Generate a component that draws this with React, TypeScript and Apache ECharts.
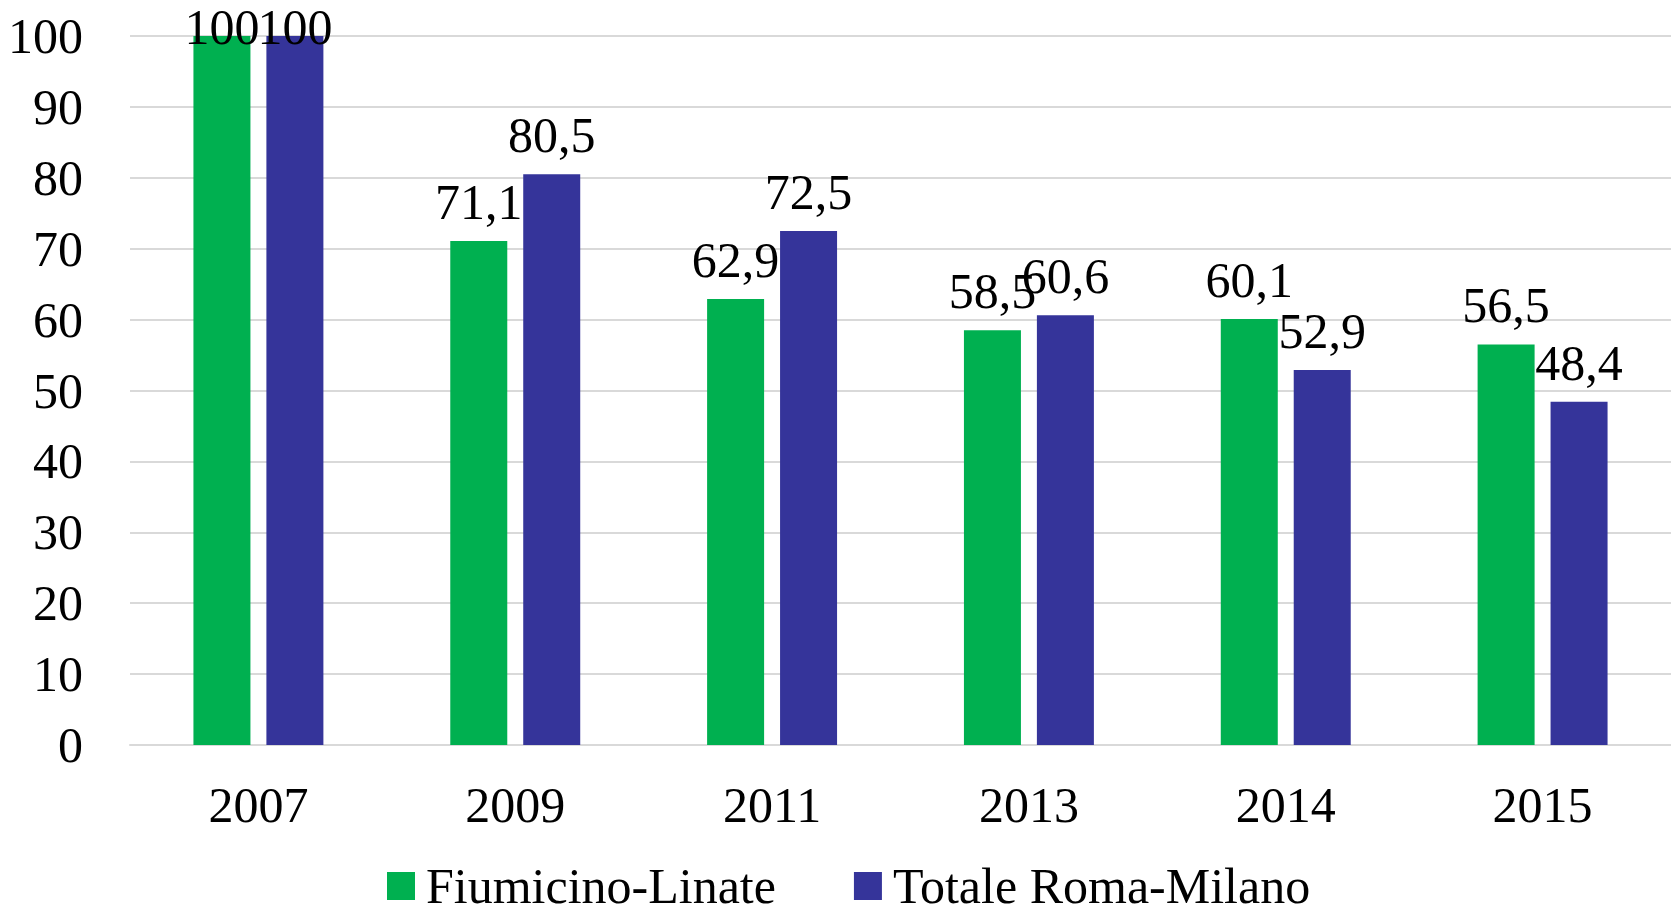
import React, { useEffect, useRef } from "react";
import * as echarts from "echarts";

const categories = ["2007", "2009", "2011", "2013", "2014", "2015"];
const fiumicinoLinate = [100, 71.1, 62.9, 58.5, 60.1, 56.5];
const totaleRomaMilano = [100, 80.5, 72.5, 60.6, 52.9, 48.4];
const seriesNames = ["Fiumicino-Linate", "Totale Roma-Milano"];

const FONT = "'Liberation Serif', 'Times New Roman', serif";
const FS = 50;

const fmt = (v: number) => String(v).replace(".", ",");

const toData = (arr: number[]) =>
  arr.map((v) =>
    v >= 100 ? { value: v, label: { offset: [0, 30] } } : { value: v }
  );

export default function App() {
  const ref = useRef<HTMLDivElement>(null);
  useEffect(() => {
    if (!ref.current) return;
    const chart = echarts.init(ref.current, null, { renderer: "svg" });
    const labelCfg = {
      show: true,
      position: "top",
      distance: 14,
      color: "#000",
      fontFamily: FONT,
      fontSize: FS,
      lineHeight: FS,
      formatter: (p: any) => fmt(p.value),
    };
    chart.setOption({
      animation: false,
      backgroundColor: "#fff",
      textStyle: { fontFamily: FONT },
      grid: { left: 130, right: 0, top: 36, bottom: 167, containLabel: false },
      legend: {
        data: seriesNames,
        left: 382,
        top: 856,
        icon: "rect",
        itemWidth: 28,
        itemHeight: 28,
        itemGap: 78,
        textStyle: {
          fontFamily: FONT,
          fontSize: FS,
          lineHeight: FS,
          color: "#000",
          padding: [0, 0, 0, 6],
        },
      },
      xAxis: {
        type: "category",
        data: categories,
        axisTick: { show: false },
        axisLine: { show: true, lineStyle: { color: "#d9d9d9", width: 2 } },
        axisLabel: {
          color: "#000",
          fontFamily: FONT,
          fontSize: FS,
          lineHeight: FS,
          margin: 35,
        },
      },
      yAxis: {
        type: "value",
        min: 0,
        max: 100,
        interval: 10,
        axisLine: { show: false },
        axisTick: { show: false },
        splitLine: { lineStyle: { color: "#d9d9d9", width: 2 } },
        axisLabel: {
          color: "#000",
          fontFamily: FONT,
          fontSize: FS,
          lineHeight: FS,
          margin: 47,
        },
      },
      series: [
        {
          name: seriesNames[0],
          type: "bar",
          data: toData(fiumicinoLinate),
          barWidth: 57,
          barGap: "28%",
          itemStyle: { color: "#00b050" },
          label: labelCfg,
        },
        {
          name: seriesNames[1],
          type: "bar",
          data: toData(totaleRomaMilano),
          barWidth: 57,
          barGap: "28%",
          itemStyle: { color: "#35349a" },
          label: labelCfg,
        },
      ],
    });
    return () => chart.dispose();
  }, []);
  return (
    <div
      ref={ref}
      style={{ position: "fixed", left: 0, top: 0, width: 1671, height: 912 }}
    />
  );
}
